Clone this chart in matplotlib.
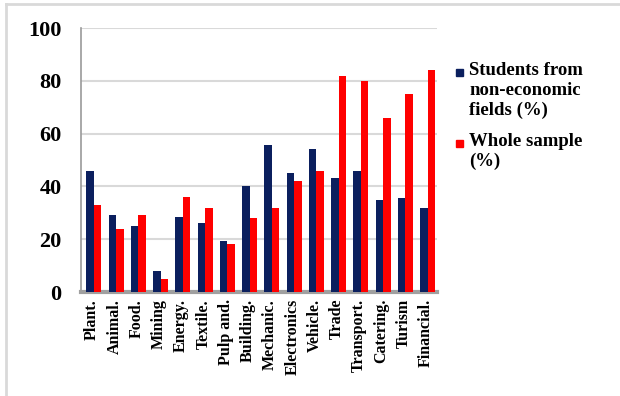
import matplotlib
matplotlib.use("Agg")
import matplotlib.pyplot as plt
import numpy as np
from matplotlib.lines import Line2D
from matplotlib.patches import Rectangle

categories = ["Plant.", "Animal.", "Food.", "Mining", "Energy.", "Textile.", "Pulp and.",
              "Building.", "Mechanic.", "Electronics", "Vehicle.", "Trade", "Transport.",
              "Catering.", "Turism", "Financial."]
students_non_econ = [46, 29, 25, 8, 28.5, 26, 19.5, 40, 55.5, 45, 54, 43, 46, 35, 35.5, 32]
whole_sample = [33, 24, 29, 5, 36, 32, 18, 28, 32, 42, 46, 82, 80, 66, 75, 84]
series_names = ["Students from\nnon-economic\nfields (%)", "Whole sample\n(%)"]
yticks = [0, 20, 40, 60, 80, 100]

navy = "#0b1f5e"
red = "#ff0000"
plt.rcParams['font.family'] = ['Liberation Serif', 'DejaVu Serif']
plt.rcParams['font.weight'] = 'bold'

fig = plt.figure(figsize=(6.2, 3.96), dpi=100)
ax = fig.add_axes([81/620, 1-292/396, 356/620, 264/396])

x = np.arange(len(categories))
w = 0.34
ax.bar(x - w/2 + 0.08, students_non_econ, width=w, color=navy, zorder=3)
ax.bar(x + w/2 + 0.08, whole_sample, width=w, color=red, zorder=3)

ax.set_xlim(-0.5, len(categories) - 0.5)
ax.set_ylim(0, 100)
ax.set_yticks(yticks)
ax.set_yticklabels([str(v) for v in yticks], fontsize=16, fontweight='bold')
ax.tick_params(axis='y', length=0, pad=14)
ax.set_xticks(x)
ax.set_xticklabels(categories, rotation=90, fontsize=11.5, fontweight='bold', va='top')
ax.tick_params(axis='x', length=0, pad=5)
ax.yaxis.grid(True, color='#d9d9d9', linewidth=1.5, zorder=0)
ax.set_axisbelow(True)
for s in ['top', 'right']:
    ax.spines[s].set_visible(False)
ax.spines['left'].set_color('#9a9a9a')
ax.spines['left'].set_linewidth(1.2)
ax.spines['bottom'].set_color('#a0a0a0')
ax.spines['bottom'].set_linewidth(3)

# legend drawn manually
colors = [navy, red]
ys = [72, 143]
for name, c, yy in zip(series_names, colors, ys):
    fig.patches.append(Rectangle((456/620, 1-(yy+4)/396), 7/620, 7/396,
                                 transform=fig.transFigure, color=c, figure=fig))
    fig.text(469/620, 1-(yy-10)/396, name, fontsize=13.5, fontweight='bold',
             va='top', ha='left', linespacing=1.22)

# frame lines
fig.add_artist(Line2D([6/620, 1], [1-4/396, 1-4/396], color='#d9d9d9', linewidth=2,
                      transform=fig.transFigure))
fig.add_artist(Line2D([6/620, 6/620], [0, 1-4/396], color='#d9d9d9', linewidth=2,
                      transform=fig.transFigure))

fig.savefig("out.png", dpi=100)
